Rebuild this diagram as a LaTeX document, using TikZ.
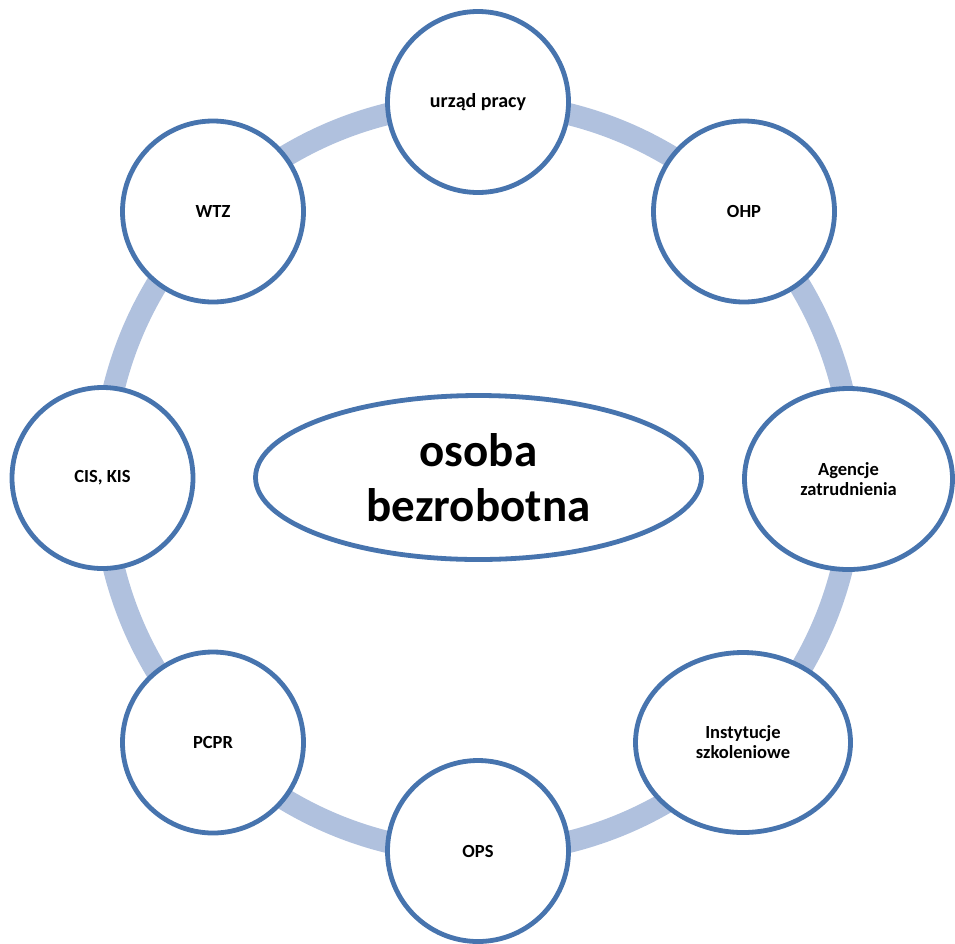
\documentclass[tikz,border=0pt]{standalone}
\usepackage{fontspec}
\setmainfont{Carlito}
\usetikzlibrary{shapes.geometric}
\definecolor{ringc}{RGB}{176,193,222}
\definecolor{edgec}{RGB}{71,116,174}
\tikzset{
  bub/.style={circle, draw=edgec, line width=4.8pt, fill=white, minimum size=181pt, inner sep=0pt, align=center, font=\bfseries\fontsize{18.5}{20}\selectfont},
  ell/.style={ellipse, draw=edgec, line width=4.8pt, fill=white, inner sep=0pt, align=center},
  ringline/.style={draw=ringc, line width=22pt}
}
\begin{document}
\begin{tikzpicture}[x=1pt,y=-1pt]
\useasboundingbox (0,0) rectangle (955,943);
\coordinate (c) at (478,478);
\draw[ringline] (c) circle[radius=375pt];
\node[bub, font=\bfseries\fontsize{20}{22}\selectfont] (urzad) at (478,102) {urząd pracy};
\node[bub] (ohp) at (744,211.5) {OHP};
\node[ell, minimum width=208pt, minimum height=181pt, font=\bfseries\fontsize{18.5}{20}\selectfont] (agencje) at (848.5,479) {Agencje\\zatrudnienia};
\node[ell, minimum width=215pt, minimum height=180pt, font=\bfseries\fontsize{18.5}{20}\selectfont] (inst) at (743,742.5) {Instytucje\\szkoleniowe};
\node[bub] (ops) at (478,851) {OPS};
\node[bub] (pcpr) at (213,742.5) {PCPR};
\node[bub] (cis) at (102.5,478) {CIS, KIS};
\node[bub] (wtz) at (213,211.5) {WTZ};
\node[ell, minimum width=446pt, minimum height=164pt, font=\bfseries\fontsize{47}{55}\selectfont] (osoba) at (478.5,477.5) {osoba\\bezrobotna};
\end{tikzpicture}
\end{document}
